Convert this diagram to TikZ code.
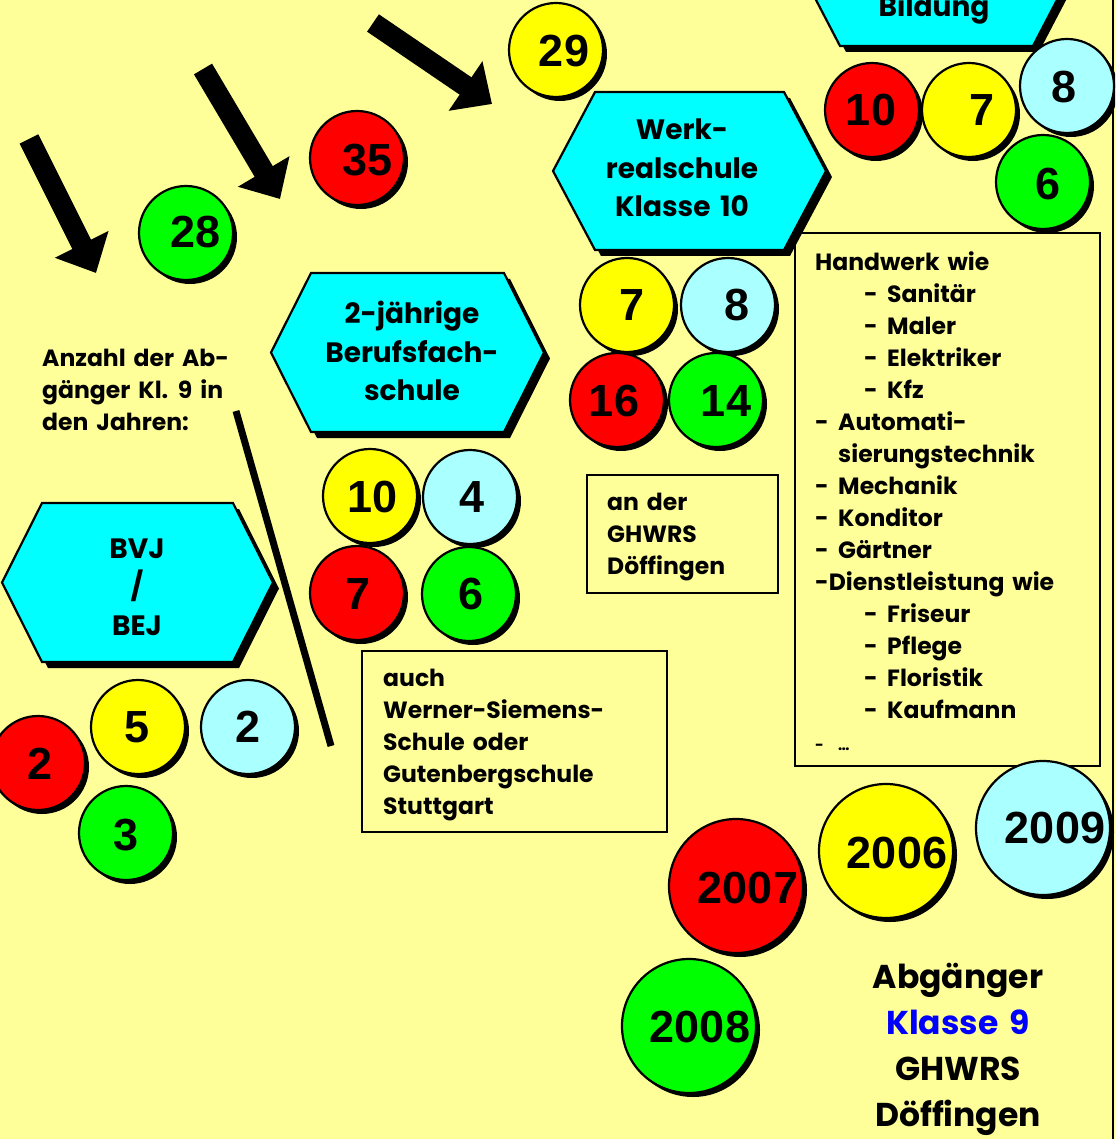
\documentclass[tikz,border=0pt]{standalone}
\usepackage{fontspec}
\setmainfont{Poppins}[WordSpace=1.6]
\newfontfamily\numfont{Liberation Sans}
\usetikzlibrary{arrows.meta,shadows}
\definecolor{bgyellow}{HTML}{FFFF99}
\definecolor{ballyellow}{HTML}{FFFF00}
\definecolor{ballred}{HTML}{FF0000}
\definecolor{ballgreen}{HTML}{00FF00}
\definecolor{ballblue}{HTML}{AAFFFF}
\definecolor{hexcyan}{HTML}{00FFFF}
\definecolor{klasseblue}{HTML}{0000FF}
\newcommand{\hexagonbox}[5]{% xL, xR, yT, yB, inset
  \fill[black] ({#1+6},{(#3+#4)/2+6}) -- ({#1+#5+6},{#3+6}) -- ({#2-#5+6},{#3+6}) -- ({#2+6},{(#3+#4)/2+6}) -- ({#2-#5+6},{#4+6}) -- ({#1+#5+6},{#4+6}) -- cycle;
  \filldraw[hexshape] (#1,{(#3+#4)/2}) -- ({#1+#5},#3) -- ({#2-#5},#3) -- (#2,{(#3+#4)/2}) -- ({#2-#5},#4) -- ({#1+#5},#4) -- cycle;
}
\newcommand{\dsh}{\makebox[23pt][l]{-}}
\tikzset{
  ball/.style={circle, draw=black, line width=2.2pt, fill=#1, inner sep=0pt, minimum size=94pt,
    general shadow={fill=black, shadow xshift=4pt, shadow yshift=-4pt}},
  bigball/.style={ball=#1, minimum size=134pt},
  num/.style={font=\numfont\bfseries\fontsize{45}{45}\selectfont, inner sep=0pt},
  hexshape/.style={fill=hexcyan, draw=black, line width=2.2pt, line join=miter},
  hextext/.style={font=\bfseries\fontsize{28}{38.5}\selectfont, align=center, inner sep=0pt},
  boxtext/.style={font=\bfseries\fontsize{23.5}{32}\selectfont, align=left, inner sep=0pt, anchor=north west},
  infobox/.style={draw=black, line width=2pt},
  bigarrow/.style={line width=21pt, line cap=butt, -{Triangle[length=32pt,width=58pt]}},
}
\begin{document}
\begin{tikzpicture}[x={(1pt,0pt)}, y={(0pt,-1pt)}]
\fill[bgyellow] (0,0) rectangle (1115,1139);
\useasboundingbox (0,0) rectangle (1115,1139);
\clip (0,0) rectangle (1115,1139);
\draw[line width=1.5pt] (1113,0) -- (1113,1139);

% arrows
\coordinate (a1s) at (29,139); \coordinate (a1e) at (96,273);
\coordinate (a2s) at (203,69); \coordinate (a2e) at (280,199);
\coordinate (a3s) at (373,23); \coordinate (a3e) at (492,104);
\draw[bigarrow] (a1s) -- (a1e);
\draw[bigarrow] (a2s) -- (a2e);
\draw[bigarrow] (a3s) -- (a3e);

% top circles
\node[ball=ballyellow] (c29) at (556,50) {};
\node[num] (t29) at (564,51) {29};
\node[ball=ballred] (c35) at (357,158) {};
\node[num] (t35) at (368,160) {35};
\node[ball=ballgreen] (c28) at (186,233) {};
\node[num] (t28) at (196,232) {28};

% Bildung hexagon (cut off)
\hexagonbox{798}{1075}{-115}{46}{42}
\node[hextext, anchor=base] (tbild) at (934,17) {Bildung};
\node[ball=ballred] (b10) at (872,110) {};
\node[num] (tb10) at (871,110) {10};
\node[ball=ballyellow] (b7) at (969,110) {};
\node[num] (tb7) at (982,110) {7};
\node[ball=ballblue] (b8) at (1067,86) {};
\node[num] (tb8) at (1064,87) {8};
\node[ball=ballgreen] (b6) at (1043,182) {};
\node[num] (tb6) at (1048,184) {6};

% Werkrealschule
\hexagonbox{553}{826}{92}{250}{42}
\node[hextext] (twerk) at (682,168) {Werk-\\realschule\\Klasse 10};
\node[ball=ballyellow] (w7) at (627,305) {};
\node[num] (tw7) at (632,305) {7};
\node[ball=ballblue] (w8) at (728,305) {};
\node[num] (tw8) at (737,305) {8};
\node[ball=ballred] (w16) at (617,400) {};
\node[num] (tw16) at (614,401) {16};
\node[ball=ballgreen] (w14) at (716,400) {};
\node[num] (tw14) at (726,401) {14};

% an der GHWRS box
\draw[infobox] (587,475) rectangle (778,593);
\node[boxtext] (tander) at (607,493) {an der\\GHWRS\\Döffingen};

% Handwerk box
\draw[infobox] (795,233) rectangle (1100,766);
\node[boxtext] (thand) at (815,251.5) {Handwerk wie\\
\hspace*{49pt}\dsh Sanitär\\
\hspace*{49pt}\dsh Maler\\
\hspace*{49pt}\dsh Elektriker\\
\hspace*{49pt}\dsh Kfz\\
\dsh Automati-\\
\hspace*{23pt}sierungstechnik\\
\dsh Mechanik\\
\dsh Konditor\\
\dsh Gärtner\\
-Dienstleistung wie\\
\hspace*{49pt}\dsh Friseur\\
\hspace*{49pt}\dsh Pflege\\
\hspace*{49pt}\dsh Floristik\\
\hspace*{49pt}\dsh Kaufmann\\
{\fontsize{15}{32}\selectfont\dsh …}};

% 2-jaehrige Berufsfachschule
\hexagonbox{271}{544}{273}{432}{40}
\node[hextext] (tberuf) at (412,351) {2-jährige\\Berufsfach-\\schule};
\node[ball=ballyellow] (j10) at (370,496) {};
\node[num] (tj10) at (373,497) {10};
\node[ball=ballblue] (j4) at (470,497) {};
\node[num] (tj4) at (472,497) {4};
\node[ball=ballred] (j7) at (357,593) {};
\node[num] (tj7) at (358,594) {7};
\node[ball=ballgreen] (j6) at (469,594) {};
\node[num] (tj6) at (471,594) {6};

% Anzahl text
\node[boxtext] (tanz) at (42,349) {Anzahl der Ab-\\gänger Kl. 9 in\\den Jahren:};

% diagonal line
\coordinate (ls) at (236,411); \coordinate (le) at (331,746);
\draw[line width=7pt] (ls) -- (le);

% BVJ / BEJ
\hexagonbox{2}{273}{503}{662}{40}
\node[hextext] (tbvj) at (137,587) {BVJ\\/\\BEJ};
\node[ball=ballred] (v2) at (38,763) {};
\node[num] (tv2) at (40,764) {2};
\node[ball=ballyellow] (v5) at (138,727) {};
\node[num] (tv5) at (137,727) {5};
\node[ball=ballblue] (v2b) at (248,727) {};
\node[num] (tv2b) at (248,727) {2};
\node[ball=ballgreen] (v3) at (126,833) {};
\node[num] (tv3) at (126,835) {3};

% auch box
\draw[infobox] (362,651) rectangle (667,832);
\node[boxtext] (tauch) at (383,669) {auch\\Werner-Siemens-\\Schule oder\\Gutenbergschule\\Stuttgart};

% year circles
\node[bigball=ballred] (y2007) at (736,886) {};
\node[num] (ty2007) at (748,888) {2007};
\node[bigball=ballyellow] (y2006) at (886,851) {};
\node[num] (ty2006) at (897,853) {2006};
\node[bigball=ballblue] (y2009) at (1043,828) {};
\node[num] (ty2009) at (1055,828) {2009};
\node[bigball=ballgreen] (y2008) at (689,1026) {};
\node[num] (ty2008) at (700,1027) {2008};

% footer
\node[font=\bfseries\fontsize{33}{46}\selectfont, align=center, inner sep=0pt] (tfoot) at (958,1049)
  {Abgänger\\{\color{klasseblue}Klasse 9}\\GHWRS\\Döffingen};
\end{tikzpicture}
\end{document}
